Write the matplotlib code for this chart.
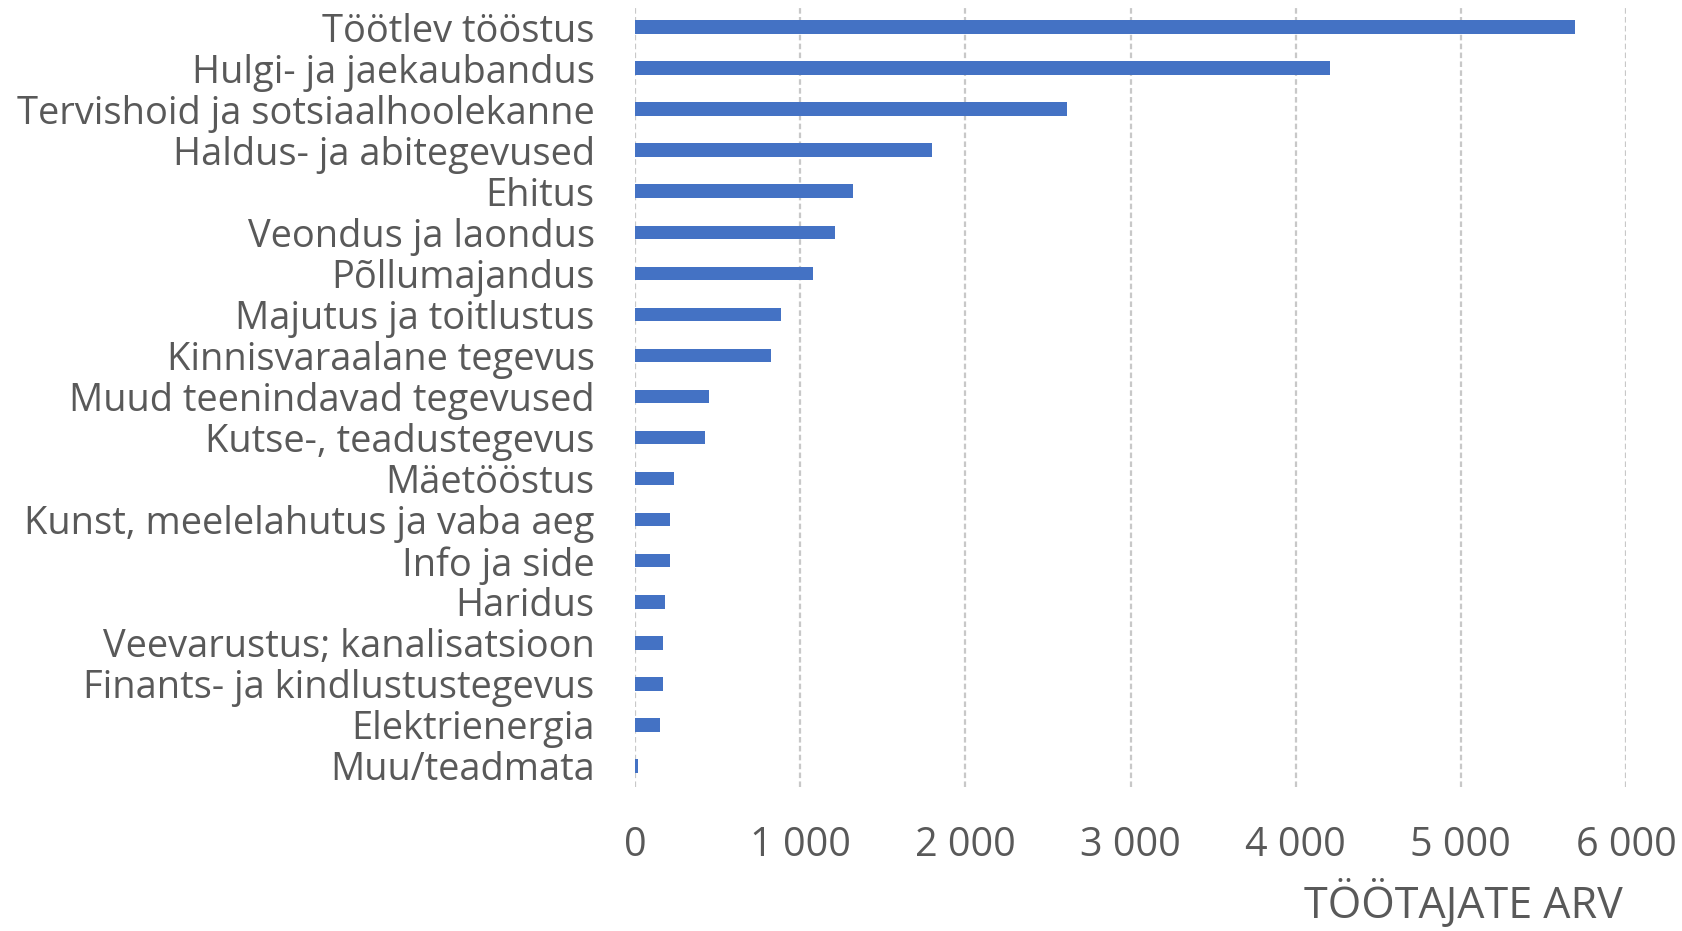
import matplotlib
matplotlib.use("Agg")
import matplotlib.pyplot as plt
from matplotlib.ticker import FuncFormatter, MultipleLocator

categories = [
    "Töötlev tööstus",
    "Hulgi- ja jaekaubandus",
    "Tervishoid ja sotsiaalhoolekanne",
    "Haldus- ja abitegevused",
    "Ehitus",
    "Veondus ja laondus",
    "Põllumajandus",
    "Majutus ja toitlustus",
    "Kinnisvaraalane tegevus",
    "Muud teenindavad tegevused",
    "Kutse-, teadustegevus",
    "Mäetööstus",
    "Kunst, meelelahutus ja vaba aeg",
    "Info ja side",
    "Haridus",
    "Veevarustus; kanalisatsioon",
    "Finants- ja kindlustustegevus",
    "Elektrienergia",
    "Muu/teadmata",
]
values = [5690, 4210, 2617, 1800, 1320, 1208, 1078, 883, 825, 451, 423,
          238, 209, 209, 181, 167, 167, 152, 18]
x_label = "TÖÖTAJATE ARV"

W, H = 1682, 931
fig = plt.figure(figsize=(W / 100, H / 100), dpi=100)
left, right, top, bottom = 635, 1626, 6.5, 786.5
ax = fig.add_axes([left / W, 1 - bottom / H, (right - left) / W, (bottom - top) / H])

text_color = "#595959"
font = "Open Sans"
fs_cat = 27.4
fs_tick = 28.5
fs_xlabel = 31

ypos = list(range(len(categories)))
ax.barh(ypos, values, height=0.33, color="#4472C4", zorder=3)
ax.set_ylim(len(categories) - 0.5, -0.5)
ax.set_yticks(ypos)
ax.set_yticklabels(categories, fontsize=fs_cat, color=text_color, family=font)

ax.set_xlim(0, 6000)
ax.xaxis.set_major_locator(MultipleLocator(1000))
ax.xaxis.set_major_formatter(FuncFormatter(lambda v, p: f"{int(v):,}".replace(",", " ")))
ax.tick_params(axis="x", labelsize=fs_tick, labelcolor=text_color, length=0, pad=28)
ax.tick_params(axis="y", length=0, pad=29)
for lab in ax.get_xticklabels():
    lab.set_family(font)

for s in ax.spines.values():
    s.set_visible(False)
ax.grid(axis="x", color="#c8c8c8", linestyle=(0, (2.5, 1.5)), linewidth=1.6, zorder=0)
ax.grid(axis="y", visible=False)

fig.text(1623 / W, 1 - 929 / H, x_label, ha="right", va="bottom",
         fontsize=fs_xlabel, color=text_color, family=font)

fig.savefig("out.png", dpi=100)
